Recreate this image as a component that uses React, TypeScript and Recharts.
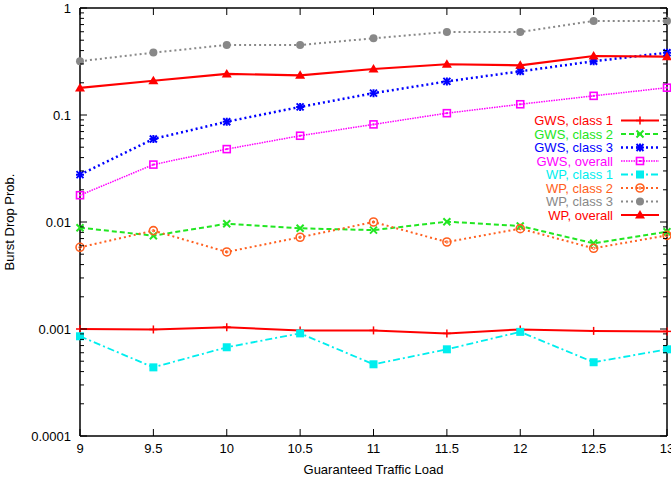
import React from "react";
import { LineChart, Line, XAxis, YAxis } from "recharts";

const loads = [9, 9.5, 10, 10.5, 11, 11.5, 12, 12.5, 13];
const gwsClass1 = [0.001, 0.00099, 0.00104, 0.00097, 0.00097, 0.00091, 0.00099, 0.00096, 0.00095];
const gwsClass2 = [0.00885, 0.00745, 0.00964, 0.00873, 0.0084, 0.01007, 0.00918, 0.00632, 0.00812];
const gwsClass3 = [0.0277, 0.0597, 0.0866, 0.119, 0.16, 0.206, 0.256, 0.318, 0.382];
const gwsOverall = [0.0178, 0.0344, 0.048, 0.064, 0.0817, 0.104, 0.126, 0.151, 0.18];
const wpClass1 = [0.000855, 0.000438, 0.000675, 0.00091, 0.000468, 0.000646, 0.00094, 0.000489, 0.000646];
const wpClass2 = [0.0058, 0.0083, 0.00525, 0.0072, 0.01, 0.0065, 0.00867, 0.00568, 0.0075];
const wpClass3 = [0.318, 0.383, 0.451, 0.451, 0.521, 0.597, 0.597, 0.756, 0.756];
const wpOverall = [0.179, 0.209, 0.242, 0.235, 0.269, 0.298, 0.291, 0.356, 0.351];

const xTicks = [9, 9.5, 10, 10.5, 11, 11.5, 12, 12.5, 13];
const majorY = [0.0001, 0.001, 0.01, 0.1, 1];
const yLabels = ["0.0001", "0.001", "0.01", "0.1", "1"];

// minor ticks 2..9 in every decade, plus the majors
const yTicks: number[] = [];
majorY.forEach((m, i) => {
  yTicks.push(m);
  if (i < majorY.length - 1) for (let k = 2; k <= 9; k++) yTicks.push(+(m * k).toPrecision(3));
});

const FONT = "'Liberation Sans', Arial, sans-serif";

type Marker = "plus" | "cross" | "star" | "boxdot" | "box" | "circdot" | "disc" | "tri";

const SERIES: { key: string; name: string; color: string; dash?: string; width: number; marker: Marker }[] = [
  { key: "gws1", name: "GWS, class 1", color: "#ff0000", width: 2, marker: "plus" },
  { key: "gws2", name: "GWS, class 2", color: "#22e622", dash: "5 3", width: 2, marker: "cross" },
  { key: "gws3", name: "GWS, class 3", color: "#0000ff", dash: "2 3", width: 2.5, marker: "star" },
  { key: "gwsAll", name: "GWS, overall", color: "#ff00ff", dash: "1.5 1", width: 1.5, marker: "boxdot" },
  { key: "wp1", name: "WP, class 1", color: "#00eeee", dash: "7 3 2 3", width: 1.8, marker: "box" },
  { key: "wp2", name: "WP, class 2", color: "#ff6020", dash: "2 3", width: 2, marker: "circdot" },
  { key: "wp3", name: "WP, class 3", color: "#888888", dash: "2 3", width: 2, marker: "disc" },
  { key: "wpAll", name: "WP, overall", color: "#ff0000", width: 2.2, marker: "tri" },
];

const columns = [gwsClass1, gwsClass2, gwsClass3, gwsOverall, wpClass1, wpClass2, wpClass3, wpOverall];

const data = loads.map((x, i) => {
  const row: Record<string, number> = { x };
  SERIES.forEach((s, j) => (row[s.key] = columns[j][i]));
  return row;
});

function drawMarker(m: Marker, cx: number, cy: number, c: string, key?: string) {
  const s = 4;
  switch (m) {
    case "plus":
      return (
        <g key={key}>
          <line x1={cx - s} x2={cx + s} y1={cy} y2={cy} stroke={c} strokeWidth={1.5} />
          <line x1={cx} x2={cx} y1={cy - s} y2={cy + s} stroke={c} strokeWidth={1.5} />
        </g>
      );
    case "cross":
      return (
        <g key={key}>
          <line x1={cx - 3.5} x2={cx + 3.5} y1={cy - 3.5} y2={cy + 3.5} stroke={c} strokeWidth={2} />
          <line x1={cx - 3.5} x2={cx + 3.5} y1={cy + 3.5} y2={cy - 3.5} stroke={c} strokeWidth={2} />
        </g>
      );
    case "star":
      return (
        <g key={key}>
          <line x1={cx - 3.5} x2={cx + 3.5} y1={cy - 3.5} y2={cy + 3.5} stroke={c} strokeWidth={2} />
          <line x1={cx - 3.5} x2={cx + 3.5} y1={cy + 3.5} y2={cy - 3.5} stroke={c} strokeWidth={2} />
          <line x1={cx - s} x2={cx + s} y1={cy} y2={cy} stroke={c} strokeWidth={2} />
          <line x1={cx} x2={cx} y1={cy - s} y2={cy + s} stroke={c} strokeWidth={2} />
        </g>
      );
    case "boxdot":
      return (
        <g key={key}>
          <rect x={cx - 3.5} y={cy - 3.5} width={7} height={7} fill="none" stroke={c} strokeWidth={1.6} />
          <rect x={cx - 1} y={cy - 1} width={2} height={2} fill={c} />
        </g>
      );
    case "box":
      return <rect key={key} x={cx - 4} y={cy - 4} width={8} height={8} fill={c} />;
    case "circdot":
      return (
        <g key={key}>
          <circle cx={cx} cy={cy} r={4} fill="none" stroke={c} strokeWidth={1.6} />
          <circle cx={cx} cy={cy} r={1.2} fill="none" stroke={c} strokeWidth={1} />
        </g>
      );
    case "disc":
      return <circle key={key} cx={cx} cy={cy} r={4} fill={c} />;
    case "tri":
      return <path key={key} d={`M${cx},${cy - 5} L${cx + 5},${cy + 3.5} L${cx - 5},${cy + 3.5} Z`} fill={c} />;
  }
}

const isMajor = (v: number) => majorY.some((m) => Math.abs(m - v) < m * 1e-6);

function LeftTick(props: any) {
  const { x, y, payload } = props;
  const v = payload.value;
  const major = isMajor(v);
  return (
    <g>
      <line x1={x} x2={x + (major ? 7 : 4)} y1={y} y2={y} stroke="#000" strokeWidth={1} />
      {major && (
        <text x={x - 9} y={y} dy="0.35em" textAnchor="end" fontSize={13} fontFamily={FONT} fill="#000">
          {yLabels[majorY.findIndex((m) => Math.abs(m - v) < m * 1e-6)]}
        </text>
      )}
    </g>
  );
}

function RightTick(props: any) {
  const { x, y, payload } = props;
  const major = isMajor(payload.value);
  return <line x1={x} x2={x - (major ? 7 : 4)} y1={y} y2={y} stroke="#000" strokeWidth={1} />;
}

function BottomTick(props: any) {
  const { x, y, payload } = props;
  return (
    <g>
      <line x1={x} x2={x} y1={y} y2={y - 7} stroke="#000" strokeWidth={1} />
      <text x={x} y={y + 17} textAnchor="middle" fontSize={13} fontFamily={FONT} fill="#000">
        {String(payload.value)}
      </text>
    </g>
  );
}

function TopTick(props: any) {
  const { x, y } = props;
  return <line x1={x} x2={x} y1={y} y2={y + 7} stroke="#000" strokeWidth={1} />;
}

function LegendBox() {
  const top = 120.5;
  const step = 13.5;
  return (
    <svg width={671} height={483} style={{ position: "absolute", left: 0, top: 0, pointerEvents: "none" }}>
      {SERIES.map((s, i) => {
        const y = top + i * step;
        return (
          <g key={s.key}>
            <text x={613} y={y} dy="0.35em" textAnchor="end" fontSize={13} fontFamily={FONT} fill={s.color}>
              {s.name}
            </text>
            <line x1={621} x2={659} y1={y} y2={y} stroke={s.color} strokeWidth={s.width} strokeDasharray={s.dash} />
            {drawMarker(s.marker, 640, y, s.color)}
          </g>
        );
      })}
    </svg>
  );
}

export default function App() {
  return (
    <div style={{ position: "absolute", left: 0, top: 0, width: 671, height: 483, background: "#fff" }}>
      <LineChart width={671} height={483} data={data} margin={{ top: 0, right: 0, bottom: 0, left: 0 }}>
        <XAxis
          xAxisId="b"
          dataKey="x"
          type="number"
          domain={[9, 13]}
          ticks={xTicks}
          interval={0}
          height={47}
          tickSize={0}
          tickMargin={0}
          tickLine={false}
          tick={<BottomTick />}
          axisLine={{ stroke: "#000", strokeWidth: 1.5 }}
          label={{ value: "Guaranteed Traffic Load", position: "insideBottom", offset: 9, fontSize: 13, fontFamily: FONT, fill: "#000" }}
        />
        <XAxis
          xAxisId="t"
          dataKey="x"
          type="number"
          orientation="top"
          domain={[9, 13]}
          ticks={xTicks}
          interval={0}
          height={8}
          tickSize={0}
          tickMargin={0}
          tickLine={false}
          tick={<TopTick />}
          axisLine={{ stroke: "#000", strokeWidth: 1.5 }}
        />
        <YAxis
          yAxisId="l"
          type="number"
          scale="log"
          domain={[0.0001, 1]}
          ticks={yTicks}
          interval={0}
          width={80}
          tickSize={0}
          tickMargin={0}
          tickLine={false}
          tick={<LeftTick />}
          axisLine={{ stroke: "#000", strokeWidth: 1.5 }}
          allowDataOverflow
          label={{
            content: (p: any) => {
              const vb = p.viewBox;
              const cy = vb.y + vb.height / 2;
              return (
                <text x={9} y={cy} dy="0.35em" textAnchor="middle" transform={`rotate(-90 9 ${cy})`} fontSize={13} fontFamily={FONT} fill="#000">
                  Burst Drop Prob.
                </text>
              );
            },
          }}
        />
        <YAxis
          yAxisId="r"
          orientation="right"
          type="number"
          scale="log"
          domain={[0.0001, 1]}
          ticks={yTicks}
          interval={0}
          width={4}
          tickSize={0}
          tickMargin={0}
          tickLine={false}
          tick={<RightTick />}
          axisLine={{ stroke: "#000", strokeWidth: 1.5 }}
          allowDataOverflow
        />
        {SERIES.map((s) => (
          <Line
            key={s.key}
            xAxisId="b"
            yAxisId="l"
            dataKey={s.key}
            name={s.name}
            stroke={s.color}
            strokeWidth={s.width}
            strokeDasharray={s.dash}
            type="linear"
            isAnimationActive={false}
            dot={(p: any) => drawMarker(s.marker, p.cx, p.cy, s.color, `${s.key}-${p.index}`) as any}
            activeDot={false}
          />
        ))}
      </LineChart>
      <LegendBox />
    </div>
  );
}
